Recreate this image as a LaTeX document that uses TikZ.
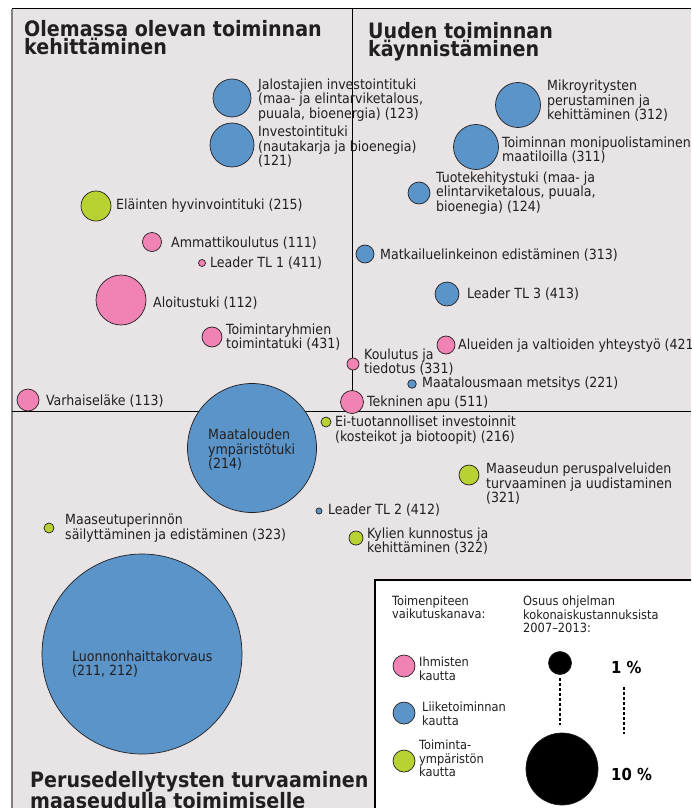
\documentclass[tikz,border=0pt]{standalone}
\usepackage{fontspec}
\setmainfont{DejaVu Sans Condensed}
\usetikzlibrary{positioning}
\definecolor{bgpanel}{HTML}{E8E4E5}
\definecolor{pinkb}{HTML}{F082B4}
\definecolor{blueb}{HTML}{5B94C8}
\definecolor{greenb}{HTML}{B7D232}
\definecolor{inktxt}{HTML}{231F20}
\tikzset{
    bub/.style={circle, draw=inktxt, line width=0.7pt, inner sep=0pt},
    lbl/.style={anchor=west, inner sep=0pt, align=left, text=inktxt,
        font=\fontsize{14}{14.5}\selectfont},
    ttl/.style={anchor=north west, inner sep=0pt, align=left, text=inktxt,
        font=\fontsize{21.2}{18.5}\selectfont\bfseries},
    lgd/.style={anchor=west, inner sep=0pt, align=left, text=inktxt,
        font=\fontsize{12.7}{13.5}\selectfont},
    pct/.style={anchor=west, inner sep=0pt, font=\fontsize{16.5}{18}\selectfont\bfseries}
}

\begin{document}
\begin{tikzpicture}[x=1pt,y=-1pt]
        \useasboundingbox (0,0) rectangle (691,808);
        \clip (0,0) rectangle (691,808);
        \fill[white] (0,0) rectangle (691,808);
        \fill[bgpanel] (12,9) rectangle (691,808);
        \draw[gray, line width=2pt] (12,9) -- (12,808);
        \draw[line width=1pt] (12,9) -- (691,9);
        \draw[line width=0.9pt] (352,9) -- (352,411);
        \draw[line width=0.9pt] (12,411) -- (691,411);

        \node[ttl] (ttlold) at (24,20) {Olemassa olevan toiminnan\\kehittäminen};
        \node[ttl] (ttlnew) at (368,22) {Uuden toiminnan\\käynnistäminen};
        \node[ttl] (ttlbase) at (30,771) {Perusedellytysten turvaaminen\\maaseudulla toimimiselle};

        \foreach \n/\x/\y/\r/\c in {
            123/232/98/19/blueb, 121/232/145/22/blueb, 215/96/206/15/greenb,
            111/152/242/9.5/pinkb, 411/202/263/3.5/pinkb, 112/121/300/25/pinkb,
            431/212/337/10/pinkb, 113/28/400/11/pinkb, 313/365/254/9/blueb,
            413/447/294/12/blueb, 421/446/345/9/pinkb, 221/412/384/4.3/blueb,
            331/353/364/6/pinkb, 511/352/402/11.5/pinkb, 312/518/105/22.5/blueb,
            311/476/147/22.5/blueb, 124/419/193/11/blueb, 214/252/448/64.5/blueb,
            216/326/422/5/greenb, 321/469/475/10/greenb, 412/319/511/3/blueb,
            322/356/538/7/greenb, 323/49/528/5/greenb, 2112/142/654/100/blueb}
            \node[bub, fill=\c, minimum size=2*\r*1pt] (b\n) at (\x,\y) {};

        \node[lbl] (t123) at (258,100) {Jalostajien investointituki\\(maa- ja elintarviketalous,\\puuala, bioenergia) (123)};
        \node[lbl] (t121) at (258,147) {Investointituki\\(nautakarja ja bioenegia)\\(121)};
        \node[lbl] (t215) at (116,206) {Eläinten hyvinvointituki (215)};
        \node[lbl] (t111) at (171,243) {Ammattikoulutus (111)};
        \node[lbl] (t411) at (210,263) {Leader TL 1 (411)};
        \node[lbl] (t112) at (153,303) {Aloitustuki (112)};
        \node[lbl] (t431) at (226,337) {Toimintaryhmien\\toimintatuki (431)};
        \node[lbl] (t113) at (46,401) {Varhaiseläke (113)};
        \node[lbl] (t331) at (364,362) {Koulutus ja\\tiedotus (331)};
        \node[lbl] (t511) at (367,403) {Tekninen apu (511)};
        \node[lbl] (t313) at (380,255) {Matkailuelinkeinon edistäminen (313)};
        \node[lbl] (t413) at (467,294) {Leader TL 3 (413)};
        \node[lbl] (t421) at (458,346) {Alueiden ja valtioiden yhteystyö (421)};
        \node[lbl] (t221) at (422,384) {Maatalousmaan metsitys (221)};
        \node[lbl] (t312) at (547,101) {Mikroyritysten\\perustaminen ja\\kehittäminen (312)};
        \node[lbl] (t311) at (502,150) {Toiminnan monipuolistaminen\\maatiloilla (311)};
        \node[lbl] (t124) at (436,193) {Tuotekehitystuki (maa- ja\\elintarviketalous, puuala,\\bioenegia) (124)};
        \node[lbl] (t214) at (208,450) {Maatalouden\\ympäristötuki\\(214)};
        \node[lbl] (t216) at (335,430) {Ei-tuotannolliset investoinnit\\(kosteikot ja biotoopit) (216)};
        \node[lbl] (t321) at (486,484) {Maaseudun peruspalveluiden\\turvaaminen ja uudistaminen\\(321)};
        \node[lbl] (t412) at (328,510) {Leader TL 2 (412)};
        \node[lbl] (t322) at (367,541) {Kylien kunnostus ja\\kehittäminen (322)};
        \node[lbl] (t323) at (65,528) {Maaseutuperinnön\\säilyttäminen ja edistäminen (323)};
        \node[lbl] (t2112) at (72,664) {Luonnonhaittakorvaus\\(211, 212)};

        \draw[fill=white, line width=1.2pt] (375,580) rectangle (700,820);
        \node[lgd] (lgdch) at (392,607.5) {Toimenpiteen\\vaikutuskanava:};
        \node[lgd] (lgdsh) at (523,614.5) {Osuus ohjelman\\kokonaiskustannuksista\\2007--2013:};
        \node[bub, fill=pinkb, minimum size=22pt] (lp) at (404,666) {};
        \node[bub, fill=blueb, minimum size=22pt] (lb) at (404,713) {};
        \node[bub, fill=greenb, minimum size=22pt] (lg) at (404,761) {};
        \node[lgd] (tlp) at (419,669) {Ihmisten\\kautta};
        \node[lgd] (tlb) at (422,714) {Liiketoiminnan\\kautta};
        \node[lgd] (tlg) at (419,758.5) {Toiminta-\\ympäristön\\kautta};
        \node[bub, fill=black, minimum size=23pt] (k1) at (560,663) {};
        \node[bub, fill=black, minimum size=72pt] (k10) at (562,769) {};
        \node[pct] (p1) at (611,667) {1 \%};
        \node[pct] (p10) at (611,774) {10 \%};
        \draw[line width=1.2pt, dash pattern=on 3pt off 2pt, shorten <=3.5pt, shorten >=8pt]
            (k1.south) -- (k1.south |- k10.north);
        \coordinate (d1) at (624,687);
        \coordinate (d2) at (624,734);
        \draw[line width=1.2pt, dash pattern=on 3pt off 2pt] (d1) -- (d2);
    \end{tikzpicture}
\end{document}
